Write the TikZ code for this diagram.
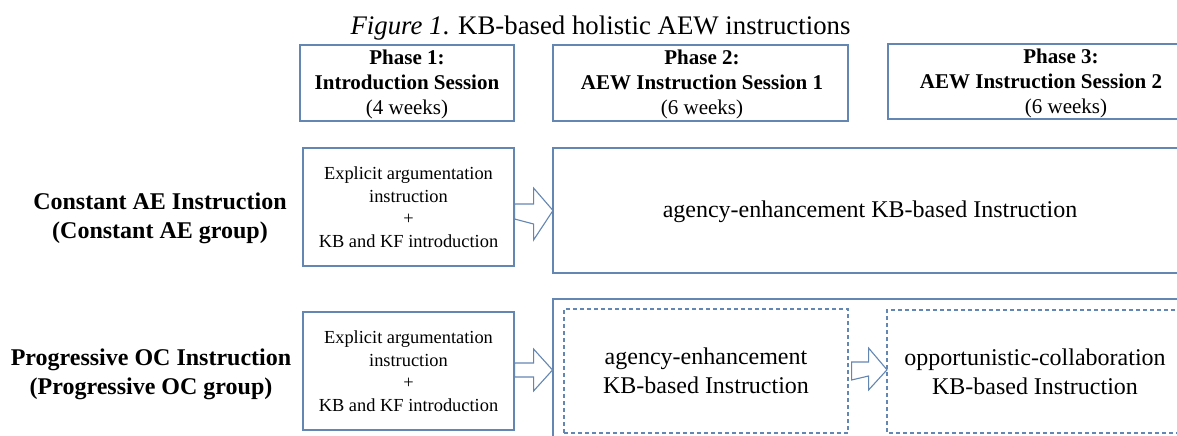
\documentclass[tikz,border=0pt]{standalone}
\usepackage{fontspec}
\setmainfont{Liberation Serif}
\usetikzlibrary{calc}
\definecolor{frame}{RGB}{100,134,178}
\tikzset{
  box/.style={draw=frame, line width=1.1pt, rectangle, inner sep=0pt, align=center},
  dbox/.style={draw=frame, line width=1.1pt, dash pattern=on 4pt off 3pt, rectangle, inner sep=0pt, align=center},
  phasetxt/.style={font=\fontsize{21}{25}\selectfont},
  smalltxt/.style={font=\fontsize{18.4}{22.5}\selectfont},
  bigtxt/.style={font=\fontsize{24}{28.5}\selectfont},
  grouptxt/.style={font=\bfseries\fontsize{24}{29}\selectfont, align=center},
  blockarrow/.style={draw=frame, line width=1.1pt, fill=white, line join=miter},
}
\begin{document}
\begin{tikzpicture}[x=1pt, y=-1pt]
\useasboundingbox (0,0) rectangle (1177,436);
\clip (0,0) rectangle (1177,436);

% caption
\node[anchor=base, font=\fontsize{26.8}{30}\selectfont] (title) at (600.5,35)
  {\textit{Figure 1}. KB-based holistic AEW instructions};

% phase headers
\node[box, minimum width=214pt, minimum height=76pt] (p1) at (407,83) {};
\node[phasetxt, align=center] (p1t) at (407,84) {\textbf{Phase 1:}\\\textbf{Introduction Session}\\(4 weeks)};
\node[box, minimum width=295pt, minimum height=76pt] (p2) at (700.5,83) {};
\node[phasetxt, align=center] (p2t) at (702,84) {\textbf{Phase 2:}\\\textbf{AEW Instruction Session 1}\\(6 weeks)};
\coordinate (p3a) at (888,44);
\coordinate (p3b) at (888,119);
\draw[frame, line width=1.1pt] ($(p3a)+(300,0)$) -- (p3a) -- (p3b) -- ($(p3b)+(300,0)$);
\node[phasetxt, align=center] (p3t) at (1041,83)
  {\hspace*{40pt}\textbf{Phase 3:}\\\textbf{AEW Instruction Session 2}\\\hspace*{50pt}(6 weeks)};

% group labels
\node[grouptxt] (g1) at (160,218) {Constant AE Instruction\\(Constant AE group)};
\node[grouptxt] (g2) at (151,374) {Progressive OC Instruction\\(Progressive OC group)};

% constant AE row
\node[box, smalltxt, minimum width=211pt, minimum height=118pt] (e1) at (408.5,207)
  {Explicit argumentation\\instruction\\+\\KB and KF introduction};
\coordinate (ae1nw) at (553,148);
\coordinate (ae1sw) at (553,273);
\draw[frame, line width=1.1pt] ($(ae1nw)+(700,0)$) -- (ae1nw) -- (ae1sw) -- ($(ae1sw)+(700,0)$);
\node[bigtxt] (ae1t) at (870,212) {agency-enhancement KB-based Instruction};

% arrow from introduction into the constant AE phase
\draw[blockarrow] ($(e1.east)+(0,-3)$) -- ++(19,0) -- ++(0,-16) -- ($(ae1nw)!0.5!(ae1sw)+(0,0)$)
  -- ($(e1.east)+(19,33)$) -- ++(0,-16) -- ($(e1.east)+(0,12)$) -- cycle;

% progressive OC row
\node[box, smalltxt, minimum width=211pt, minimum height=118pt] (e2) at (408.5,371)
  {Explicit argumentation\\instruction\\+\\KB and KF introduction};
\coordinate (oc) at (553,299);
\draw[frame, line width=1.8pt] ($(oc)+(0,200)$) -- (oc) -- ($(oc)+(700,0)$);

\node[dbox, bigtxt, minimum width=284pt, minimum height=124pt] (d1) at (706,371)
  {agency-enhancement\\KB-based Instruction};
\coordinate (d2nw) at (887,310);
\coordinate (d2sw) at (887,433);
\draw[frame, line width=1.1pt, dash pattern=on 4pt off 3pt] ($(d2nw)+(400,0)$) -- (d2nw) -- (d2sw) -- ($(d2sw)+(400,0)$);
\node[bigtxt, align=center] (d2t) at (1035,372) {opportunistic-collaboration\\KB-based Instruction};

% arrow from introduction into the progressive OC phases
\draw[blockarrow] ($(e2.east)+(0,-8)$) -- ++(19,0) -- ++(0,-14) -- ($(e2.east)+(38,-1)$)
  -- ($(e2.east)+(19,20)$) -- ++(0,-14) -- ($(e2.east)+(0,6)$) -- cycle;

% arrow between the two dashed sessions
\draw[blockarrow] ($(d1.east)+(3,-9)$) -- ++(17,0) -- ++(0,-14) -- ($(d2nw)!0.486!(d2sw)$)
  -- ($(d1.east)+(20,19)$) -- ++(0,-14) -- ($(d1.east)+(3,9)$) -- cycle;
\end{tikzpicture}
\end{document}
